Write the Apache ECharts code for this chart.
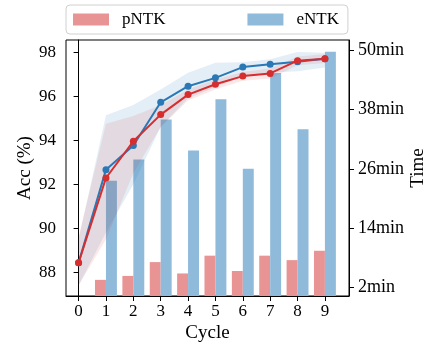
<!DOCTYPE html>
<html>
<head>
<meta charset="utf-8">
<script src="https://cdn.jsdelivr.net/npm/echarts@6/dist/echarts.min.js"></script>
<style>
html,body{margin:0;padding:0;background:#fff;}
#chart{width:427px;height:350px;}
</style>
</head>
<body>
<div id="chart"></div>
<script>
// x positions (cycle) and tick labels
var cycles = [0, 1, 2, 3, 4, 5, 6, 7, 8, 9];
var barCycles = [1, 2, 3, 4, 5, 6, 7, 8, 9];
var accTicks = [88, 90, 92, 94, 96, 98];
var timeTicks = [2, 14, 26, 38, 50];

// time per cycle (min)
var pntkTime = [3.5, 4.3, 7.1, 4.8, 8.4, 5.3, 8.4, 7.5, 9.4];
var entkTime = [23.6, 27.9, 36.0, 29.7, 40.1, 26.0, 45.4, 34.0, 49.7];

// accuracy (%) with shaded range
var pntkAcc  = [88.43, 92.28, 93.95, 95.16, 96.07, 96.54, 96.91, 97.03, 97.61, 97.70];
var pntkLow  = [87.40, 89.50, 92.50, 94.60, 95.80, 96.30, 96.70, 96.80, 97.40, 97.50];
var pntkHigh = [89.60, 94.75, 95.10, 95.60, 96.30, 96.75, 97.10, 97.25, 97.80, 97.90];
var entkAcc  = [88.43, 92.66, 93.76, 95.72, 96.45, 96.83, 97.32, 97.45, 97.56, 97.70];
var entkLow  = [87.40, 89.80, 92.00, 94.60, 95.90, 96.40, 96.90, 97.06, 97.13, 97.30];
var entkHigh = [89.50, 95.13, 95.60, 96.30, 97.06, 97.52, 97.54, 97.67, 98.00, 97.97];

var font = 'Liberation Serif';

//阴影区域
function bandSeries(name, low, high, color){
	return {
		type:'custom',
		name:name,
		silent:true,
		z:3,
		data:[[0, low[0]]],
		renderItem:function(params, api){
			var pts = [];
			for(var i = 0; i < cycles.length; i++) pts.push(api.coord([cycles[i], high[i]]));
			for(var j = cycles.length - 1; j >= 0; j--) pts.push(api.coord([cycles[j], low[j]]));
			return {type:'polygon', shape:{points:pts}, style:{fill:color}};
		}
	};
}

//柱子, side -1 在左, 1 在右
function barSeries(name, values, side, color){
	return {
		type:'custom',
		name:name,
		yAxisIndex:1,
		z:1,
		itemStyle:{color:color},
		data:barCycles.map(function(c, i){ return [c, values[i]]; }),
		renderItem:function(params, api){
			var x = api.value(0), v = api.value(1);
			var w = api.size([0.4, 0])[0];
			var top = api.coord([x, v]);
			var base = api.coord([x, 0]);
			var left = side < 0 ? top[0] - w : top[0];
			var cs = params.coordSys;
			var rect = echarts.graphic.clipRectByRect(
				{x:left, y:top[1], width:w, height:base[1] - top[1]},
				{x:cs.x, y:cs.y, width:cs.width, height:cs.height});
			return rect && {type:'rect', shape:rect, style:{fill:color}};
		}
	};
}

function lineSeries(name, values, color, z){
	return {
		type:'line',
		name:name,
		z:z,
		data:cycles.map(function(c, i){ return [c, values[i]]; }),
		symbol:'circle',
		symbolSize:7,
		lineStyle:{color:color, width:2},
		itemStyle:{color:color},
		silent:true
	};
}

var myChart = echarts.init(document.getElementById('chart'));
var option = {
	animation:false,
	textStyle:{fontFamily:font},
	grid:{left:66, right:78, top:40, bottom:54, show:true, borderColor:'#000', borderWidth:1,
		outerBoundsMode:'none', containLabel:false},
	legend:{
		data:['pNTK', 'eNTK'],
		left:66,
		top:5,
		padding:[6, 9, 6, 7],
		itemWidth:36,
		itemHeight:12,
		itemGap:82,
		icon:'rect',
		borderColor:'#d0d0d0',
		borderWidth:1,
		borderRadius:4,
		textStyle:{fontFamily:font, fontSize:17, color:'#000', padding:[0, 0, 0, 8]}
	},
	xAxis:{
		type:'value',
		min:-0.46,
		max:9.88,
		name:'Cycle',
		nameLocation:'middle',
		nameGap:28,
		nameMoveOverlap:false,
		nameTextStyle:{fontFamily:font, fontSize:19, color:'#000'},
		axisLine:{lineStyle:{color:'#000'}},
		axisTick:{show:true, length:5, lineStyle:{color:'#000'}, customValues:cycles},
		axisLabel:{fontFamily:font, fontSize:17, color:'#000', margin:7, customValues:cycles},
		splitLine:{show:false}
	},
	yAxis:[{
		type:'value',
		min:86.92,
		max:98.55,
		name:'Acc (%)',
		nameLocation:'middle',
		nameGap:31,
		nameMoveOverlap:false,
		nameTextStyle:{fontFamily:font, fontSize:19, color:'#000'},
		axisLine:{show:true, lineStyle:{color:'#000'}},
		axisTick:{show:true, length:5, lineStyle:{color:'#000'}, customValues:accTicks},
		axisLabel:{fontFamily:font, fontSize:17, color:'#000', margin:10, customValues:accTicks},
		splitLine:{show:false}
	},{
		type:'value',
		position:'right',
		min:0.23,
		max:52.1,
		name:'Time',
		nameLocation:'middle',
		nameGap:60,
		nameRotate:90,
		nameMoveOverlap:false,
		nameTextStyle:{fontFamily:font, fontSize:19, color:'#000'},
		axisLine:{show:true, lineStyle:{color:'#000'}},
		axisTick:{show:true, length:5, lineStyle:{color:'#000'}, customValues:timeTicks},
		axisLabel:{fontFamily:font, fontSize:18, color:'#000', margin:9, customValues:timeTicks,
			formatter:function(v){ return v + 'min'; }},
		splitLine:{show:false}
	}],
	series:[
		barSeries('pNTK', pntkTime, -1, '#e99494'),
		barSeries('eNTK', entkTime, 1, '#8fbada'),
		bandSeries('eNTK range', entkLow, entkHigh, 'rgba(31,119,180,0.12)'),
		bandSeries('pNTK range', pntkLow, pntkHigh, 'rgba(214,39,40,0.10)'),
		lineSeries('eNTK acc', entkAcc, '#2a78b5', 5),
		lineSeries('pNTK acc', pntkAcc, '#d62d2f', 6)
	]
};
myChart.setOption(option);
</script>
</body>
</html>
